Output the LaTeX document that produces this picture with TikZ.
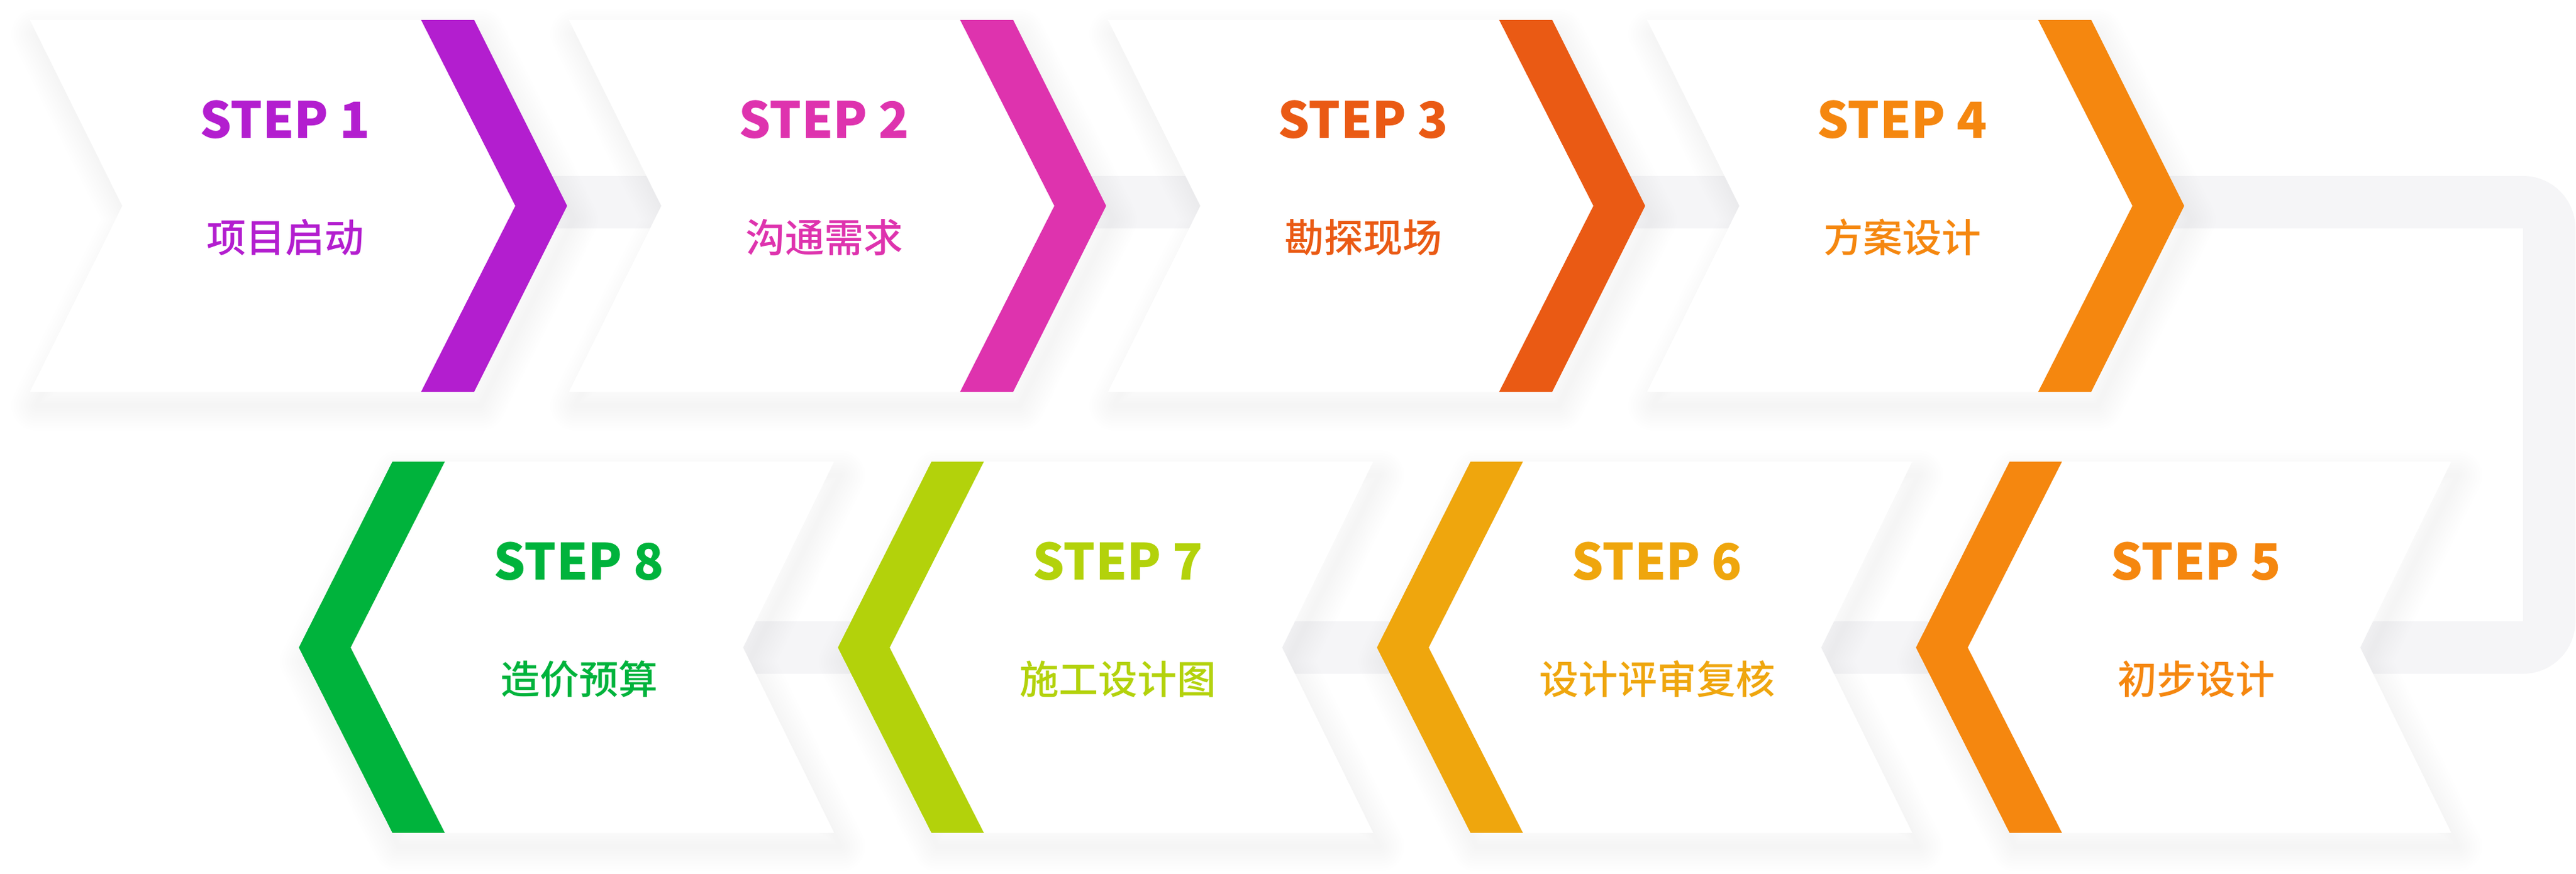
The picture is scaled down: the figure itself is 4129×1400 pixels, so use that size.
\documentclass[tikz,border=0pt]{standalone}
\usepackage{fontspec}
\setmainfont{Noto Sans CJK SC}
\newfontfamily\cnfont{Noto Sans CJK SC}[UprightFont={* Medium}]
\definecolor{c1}{HTML}{B31ECF}
\definecolor{c2}{HTML}{DE33AE}
\definecolor{c3}{HTML}{EA5A14}
\definecolor{c4}{HTML}{F5870F}
\definecolor{c5}{HTML}{F5870F}
\definecolor{c6}{HTML}{EFA60D}
\definecolor{c7}{HTML}{B3D20B}
\definecolor{c8}{HTML}{00B33C}
\definecolor{trackgray}{HTML}{F5F5F7}
\begin{document}
\begin{tikzpicture}[x=1pt,y=-1pt,
  steptext/.style={font=\fontsize{80}{88}\selectfont\bfseries, anchor=base, inner sep=0pt},
  labtext/.style={font=\cnfont\fontsize{63}{70}\selectfont, anchor=base, inner sep=0pt},
  track/.style={draw=trackgray, line width=84pt, rounded corners=42pt},
  shadowlayer/.style={draw=black, draw opacity=0.0045, line join=round},
  bodyfill/.style={fill=white},
]
\fill[white] (0,0) rectangle (4129,1400);
\useasboundingbox (0,0) rectangle (4129,1400);
% track behind the steps
\coordinate (ta) at (400,324);
\coordinate (tb) at (4086,324);
\coordinate (tc) at (4086,1038);
\coordinate (td) at (1150,1038);
\draw[track] (ta) -- (tb) -- (tc) -- (td);
% shadows
\foreach \n in {0,1,2,3} {
  \begin{scope}[shift={({\n*864+10},22)}]
    \foreach \w in {8,16,...,80}
      \draw[shadowlayer, line width=\w pt] (48,32) -- (760,32) -- (909,330) -- (760,628) -- (48,628) -- (196,330) -- cycle;
  \end{scope}
  \begin{scope}[shift={({\n*864+10},22)}]
    \foreach \w in {8,16,...,80}
      \draw[shadowlayer, line width=\w pt] (479,1038) -- (629,740) -- (1337,740) -- (1191,1038) -- (1337,1335) -- (629,1335) -- cycle;
  \end{scope}
}
% row 1
\foreach \k/\lab in {1/项目启动,2/沟通需求,3/勘探现场,4/方案设计} {
  \begin{scope}[shift={({(\k-1)*864},0)}]
    \fill[bodyfill] (48,32) -- (760,32) -- (909,330) -- (760,628) -- (48,628) -- (196,330) -- cycle;
    \fill[c\k] (675,32) -- (760,32) -- (909,330) -- (760,628) -- (675,628) -- (826,330) -- cycle;
    \node[steptext, text=c\k] (s\k) at (457,221) {STEP \k};
    \node[labtext, text=c\k] (t\k) at (457,404) {\lab};
  \end{scope}
}
% row 2
\foreach \k/\n/\lab in {8/0/造价预算,7/1/施工设计图,6/2/设计评审复核,5/3/初步设计} {
  \begin{scope}[shift={(\n*864,0)}]
    \fill[bodyfill] (479,1038) -- (629,740) -- (1337,740) -- (1191,1038) -- (1337,1335) -- (629,1335) -- cycle;
    \fill[c\k] (479,1038) -- (629,740) -- (713,740) -- (562,1038) -- (713,1335) -- (629,1335) -- cycle;
    \node[steptext, text=c\k] (s\k) at (928,929) {STEP \k};
    \node[labtext, text=c\k] (t\k) at (928,1112) {\lab};
  \end{scope}
}
\end{tikzpicture}
\end{document}
